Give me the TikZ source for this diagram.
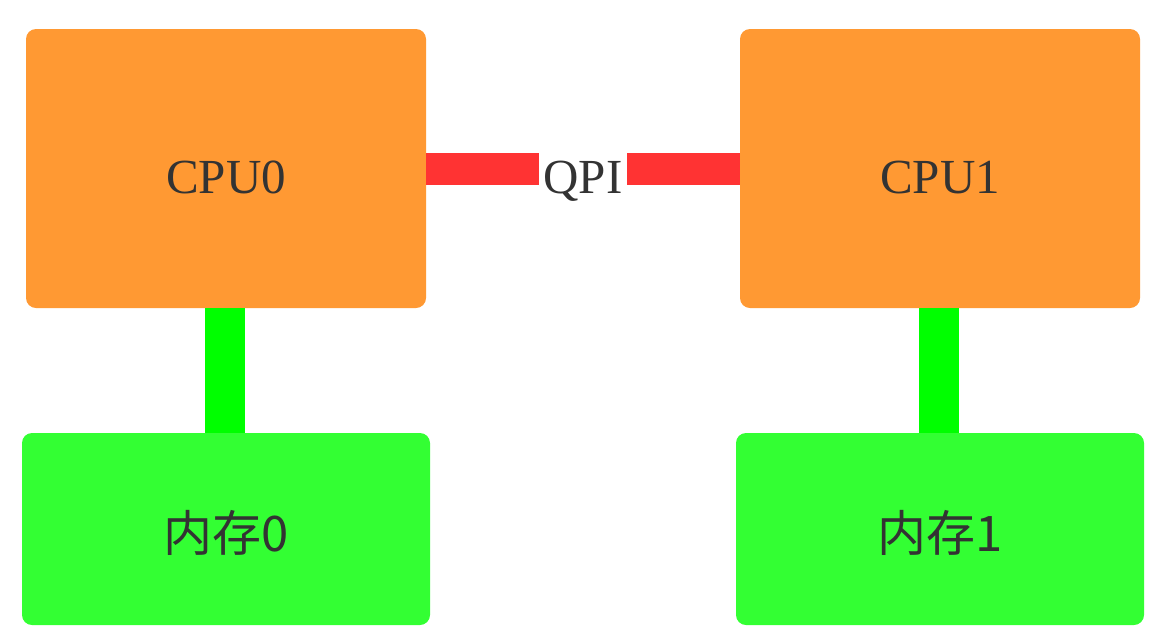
\documentclass[tikz,border=0pt]{standalone}
\usepackage{fontspec}
\setmainfont{Liberation Serif}
\newfontfamily\cjk{Noto Sans CJK SC}
\usetikzlibrary{positioning}
\definecolor{cpuorange}{HTML}{FF9933}
\definecolor{memgreen}{HTML}{33FF33}
\definecolor{busgreen}{HTML}{00FF00}
\definecolor{qpired}{HTML}{FF3333}
\definecolor{textgray}{HTML}{333333}
\tikzset{
    label text/.style={text=textgray, font=\fontsize{49}{58}\selectfont,
        text height=49pt, text depth=0pt},
    box/.style={label text, rounded corners=10pt, inner sep=0pt},
    cpu/.style={box, fill=cpuorange, minimum width=400pt, minimum height=279pt},
    mem/.style={box, fill=memgreen, minimum width=408pt, minimum height=192pt,
        text height=45pt},
    qpi/.style={qpired, line width=32pt},
    bus/.style={busgreen, line width=40pt}
}
\begin{document}
\begin{tikzpicture}[x=1pt, y=-1pt]
    \useasboundingbox (0,0) rectangle (1167,641);

    \coordinate (C0) at (226, 168.5);
    \coordinate (C1) at (940, 168.5);
    \coordinate (M0) at (226, 529);
    \coordinate (M1) at (940, 529);

    \node [cpu] (cpu0) at (C0) {CPU0};
    \node [cpu] (cpu1) at (C1) {CPU1};
    \node [mem] (mem0) at (M0) {\cjk 内存0};
    \node [mem] (mem1) at (M1) {\cjk 内存1};

    \draw [qpi] (cpu0) -- node [label text, fill=white, inner xsep=4.5pt, inner ysep=2pt] {QPI} (cpu1);
    \draw [bus] ([xshift=-1pt]cpu0.south) -- ([xshift=-1pt]mem0.north);
    \draw [bus] ([xshift=-1pt]cpu1.south) -- ([xshift=-1pt]mem1.north);
\end{tikzpicture}
\end{document}
